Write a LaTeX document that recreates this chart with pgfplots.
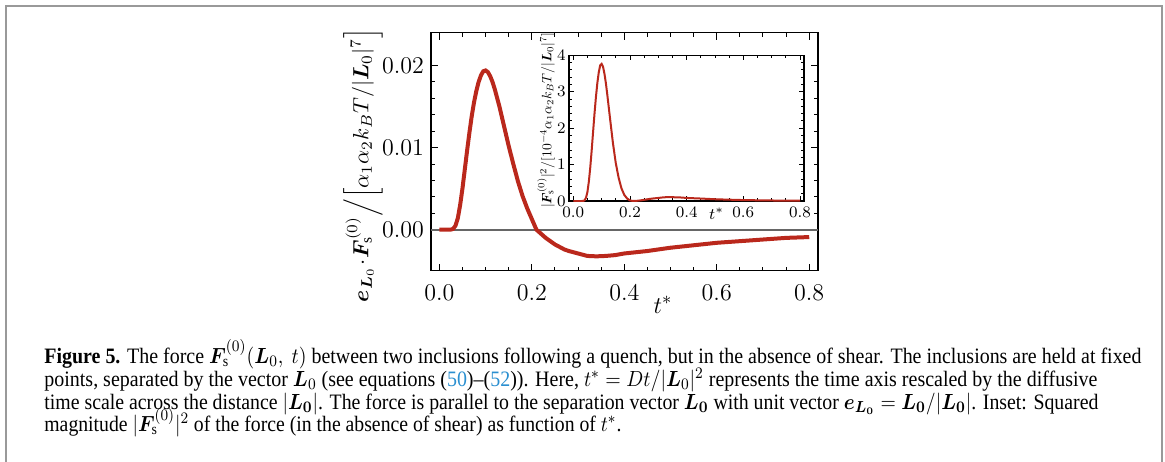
\documentclass[border=0pt]{standalone}
\usepackage{pgfplots}
\usepackage{pgfplotstable}
\pgfplotsset{compat=1.18}
\usepackage{fontspec}
\setmainfont{Liberation Serif}
\usepackage{bm}
\usepackage{graphicx}
\definecolor{curvered}{HTML}{BA281C}
\definecolor{linkblue}{HTML}{2A8FD0}
\definecolor{framegray}{HTML}{999999}
\definecolor{zerogray}{HTML}{666666}

\pgfplotstableread{
t y
0.000 0
0.020 0
0.025 0.00001
0.030 0.0001
0.035 0.0005
0.040 0.0014
0.045 0.0030
0.050 0.0050
0.055 0.0073
0.060 0.0096
0.065 0.0118
0.070 0.0138
0.075 0.0155
0.080 0.0169
0.085 0.0180
0.090 0.0188
0.095 0.0193
0.100 0.0194
0.105 0.0192
0.110 0.0187
0.115 0.0180
0.120 0.0171
0.130 0.0150
0.140 0.0126
0.150 0.0102
0.160 0.0080
0.170 0.0059
0.180 0.0041
0.190 0.0026
0.200 0.0013
0.210 0.0000
0.220 -0.0005
0.230 -0.0010
0.240 -0.0014
0.250 -0.0018
0.260 -0.0021
0.270 -0.0024
0.280 -0.0026
0.300 -0.0029
0.320 -0.0032
0.340 -0.00325
0.360 -0.0032
0.380 -0.0031
0.400 -0.0029
0.450 -0.0026
0.500 -0.0022
0.550 -0.0019
0.600 -0.0016
0.650 -0.0014
0.700 -0.0012
0.750 -0.0010
0.800 -0.0009
}\maindata

\pgfplotstableread{
t y
0.000 0
0.025 0
0.030 0.0001
0.035 0.0025
0.040 0.0196
0.045 0.090
0.050 0.250
0.055 0.533
0.060 0.922
0.065 1.392
0.070 1.904
0.075 2.403
0.080 2.856
0.085 3.240
0.090 3.534
0.095 3.725
0.100 3.764
0.105 3.686
0.110 3.497
0.115 3.240
0.120 2.924
0.130 2.250
0.140 1.588
0.150 1.040
0.160 0.640
0.170 0.348
0.180 0.168
0.190 0.068
0.200 0.017
0.210 0.000
0.220 0.0025
0.230 0.010
0.240 0.0196
0.250 0.0324
0.260 0.0441
0.270 0.0576
0.280 0.0676
0.300 0.0841
0.320 0.1024
0.340 0.1056
0.360 0.1024
0.380 0.0961
0.400 0.0841
0.450 0.0676
0.500 0.0484
0.550 0.0361
0.600 0.0256
0.650 0.0196
0.700 0.0144
0.750 0.0100
0.800 0.0081
}\insetdata

\begin{document}
\begin{tikzpicture}
\useasboundingbox (0,0) rectangle (582.5pt,-230.5pt);
% frame
\draw[framegray, line width=1pt] (3pt,-240pt) -- (3pt,-3pt) -- (581pt,-3pt) -- (581pt,-240pt);

% main axis
\begin{axis}[
  at={(215.5pt,-135.35pt)}, anchor=south west,
  scale only axis, width=193.5pt, height=119pt,
  xmin=-0.018, xmax=0.819, ymin=-0.005, ymax=0.024,
  xtick={0,0.2,0.4,0.6,0.8},
  ytick={0,0.01,0.02},
  scaled y ticks=false, scaled x ticks=false,
  xticklabel style={/pgf/number format/fixed,/pgf/number format/fixed zerofill,/pgf/number format/precision=1, yshift=-3.5pt},
  yticklabel style={/pgf/number format/fixed,/pgf/number format/fixed zerofill,/pgf/number format/precision=2},
  minor x tick num=3, minor y tick num=4,
  tick align=inside,
  major tick length=3.5pt, minor tick length=2pt,
  every tick/.style={black, line width=0.5pt},
  axis line style={line width=0.7pt},
  tick label style={font=\fontsize{12.5}{14}\selectfont},
  clip=true,
]
\addplot[zerogray, line width=1pt, forget plot] coordinates {(-0.018,0) (0.819,0)};
\addplot[curvered, line width=2pt] table[x=t,y=y] {\maindata};
\end{axis}

% inset axis
\begin{axis}[
  at={(284.5pt,-100.5pt)}, anchor=south west,
  scale only axis, width=117.5pt, height=72.85pt,
  axis background/.style={fill=white},
  xmin=-0.015, xmax=0.814, ymin=0, ymax=4,
  xtick={0,0.2,0.4,0.6,0.8},
  ytick={0,1,2,3,4},
  scaled x ticks=false,
  xticklabel style={/pgf/number format/fixed,/pgf/number format/fixed zerofill,/pgf/number format/precision=1, inner sep=2pt, yshift=-1pt},
  yticklabel style={inner sep=1.5pt},
  minor x tick num=3, minor y tick num=4,
  tick align=inside,
  major tick length=2.5pt, minor tick length=1.4pt,
  every tick/.style={black, line width=0.4pt},
  axis line style={line width=0.6pt},
  tick label style={font=\fontsize{8.5}{10}\selectfont},
]
\addplot[curvered, line width=1pt] table[x=t,y=y] {\insetdata};
\end{axis}

% axis labels
\node[rotate=90] at (181.5pt,-82.5pt) {\resizebox{137pt}{!}{$\bm{e}_{\bm{L}_0}\!\cdot\!\bm{F}_{\mathrm{s}}^{(0)}\Big/\Big[\alpha_1\alpha_2k_BT/|\bm{L}_0|^7\Big]$}};
\node at (331.5pt,-152.5pt) {\fontsize{13}{15}\selectfont $t^*$};
\node[rotate=90] at (273pt,-60.2pt) {\resizebox{87.5pt}{!}{$|\bm{F}_{\mathrm{s}}^{(0)}|^2/[10^{-4}\alpha_1\alpha_2k_BT/|\bm{L}_0|^7]$}};
\node at (358.3pt,-107pt) {\fontsize{8.5}{10}\selectfont $t^*$};

% caption
\node[anchor=base west, inner sep=0pt] at (22pt,-181.75pt) {\resizebox{548.5pt}{\height}{\fontsize{11}{13}\selectfont\textbf{Figure 5.} The force $\bm{F}_{\mathrm{s}}^{(0)}(\bm{L}_0,\ t)$ between two inclusions following a quench, but in the absence of shear. The inclusions are held at fixed}};
\node[anchor=base west, inner sep=0pt] at (22pt,-193.15pt) {\resizebox{526.5pt}{\height}{\fontsize{11}{13}\selectfont points, separated by the vector $\bm{L}_0$ (see equations ({\color{linkblue}50})--({\color{linkblue}52})). Here, $t^*=Dt/|\bm{L}_0|^2$ represents the time axis rescaled by the diffusive}};
\node[anchor=base west, inner sep=0pt] at (22pt,-204.55pt) {\resizebox{527pt}{\height}{\fontsize{11}{13}\selectfont time scale across the distance $|\bm{L}_{\bm{0}}|$. The force is parallel to the separation vector $\bm{L}_{\bm{0}}$ with unit vector $\bm{e}_{\bm{L}_{\bm{0}}}=\bm{L}_{\bm{0}}/|\bm{L}_{\bm{0}}|$. Inset: Squared}};
\node[anchor=base west, inner sep=0pt] at (22pt,-215.95pt) {\resizebox{288.5pt}{\height}{\fontsize{11}{13}\selectfont magnitude $|\bm{F}_{\mathrm{s}}^{(0)}|^2$ of the force (in the absence of shear) as function of $t^*$.}};
\end{tikzpicture}
\end{document}
